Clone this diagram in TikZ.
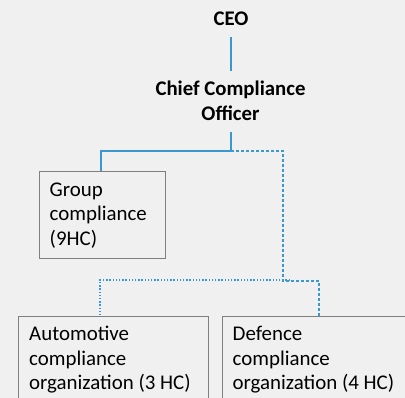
\documentclass[tikz,border=0pt]{standalone}
\usepackage{fontspec}
\setmainfont{Carlito}
\definecolor{bg}{HTML}{F0F0F0}
\definecolor{lnblue}{HTML}{3A98CF}
\definecolor{boxgray}{HTML}{7F7F7F}
\begin{document}
\begin{tikzpicture}[x=1pt,y=-1pt,
  lbl/.style={inner sep=0pt,font=\fontsize{20.9}{24.5}\selectfont},
  hdr/.style={lbl,font=\fontsize{20.8}{24.5}\selectfont\bfseries},
  orgbox/.style={draw=boxgray,line width=1.2pt,rectangle,inner sep=0pt,anchor=north west},
  solidln/.style={draw=lnblue,line width=1.4pt},
  dashln/.style={draw=lnblue,line width=1.4pt,dash pattern=on 3pt off 2pt},
  dotln/.style={draw=lnblue,line width=1.8pt,dash pattern=on 1.5pt off 1.7pt}]
\fill[bg] (0,0) rectangle (405,398);
\useasboundingbox (0,0) rectangle (405,398);
\clip (0,0) rectangle (405,398);
% header texts
\node[hdr,anchor=base] (ceo) at (231,26) {CEO};
\node[hdr,anchor=base] (cco1) at (230.5,96) {Chief Compliance};
\node[hdr,anchor=base] (cco2) at (230.5,121) {Officer};
\coordinate (ceoB) at (231,37);
\coordinate (ccoT) at (231,71);
\coordinate (ccoB) at (231,132);
\coordinate (split) at (231,151);
% boxes
\node[orgbox,minimum width=126pt,minimum height=87pt] (grp) at (39,171) {};
\node[orgbox,minimum width=190pt,minimum height=100pt] (auto) at (18,316) {};
\node[orgbox,minimum width=200pt,minimum height=100pt] (def) at (222,316) {};
% box texts
\node[lbl,anchor=base west] (g1) at (49.5,196.5) {Group};
\node[lbl,anchor=base west] (g2) at (49.5,221) {compliance};
\node[lbl,anchor=base west] (g3) at (49.5,245.5) {(9HC)};
\node[lbl,anchor=base west] (a1) at (29,340.5) {Automotive};
\node[lbl,anchor=base west] (a2) at (29,365.5) {compliance};
\node[lbl,anchor=base west] (a3) at (29,390) {organization (3 HC)};
\node[lbl,anchor=base west] (d1) at (232.5,340.5) {Defence};
\node[lbl,anchor=base west] (d2) at (232.5,365.5) {compliance};
\node[lbl,anchor=base west] (d3) at (232.5,390) {organization (4 HC)};
% connectors
\draw[solidln] (ceoB) -- (ccoT);
\draw[solidln] (ccoB) -- (split) -| (grp.north west -| 101,0);
\coordinate (dj) at (283,281);
\draw[dashln] (split) -- (283,151) -- (dj) -- (319,281) -- (def.north -| 319,0);
\draw[dotln] (290,280) -- (100,280) -- (auto.north -| 100,0);
\end{tikzpicture}
\end{document}
